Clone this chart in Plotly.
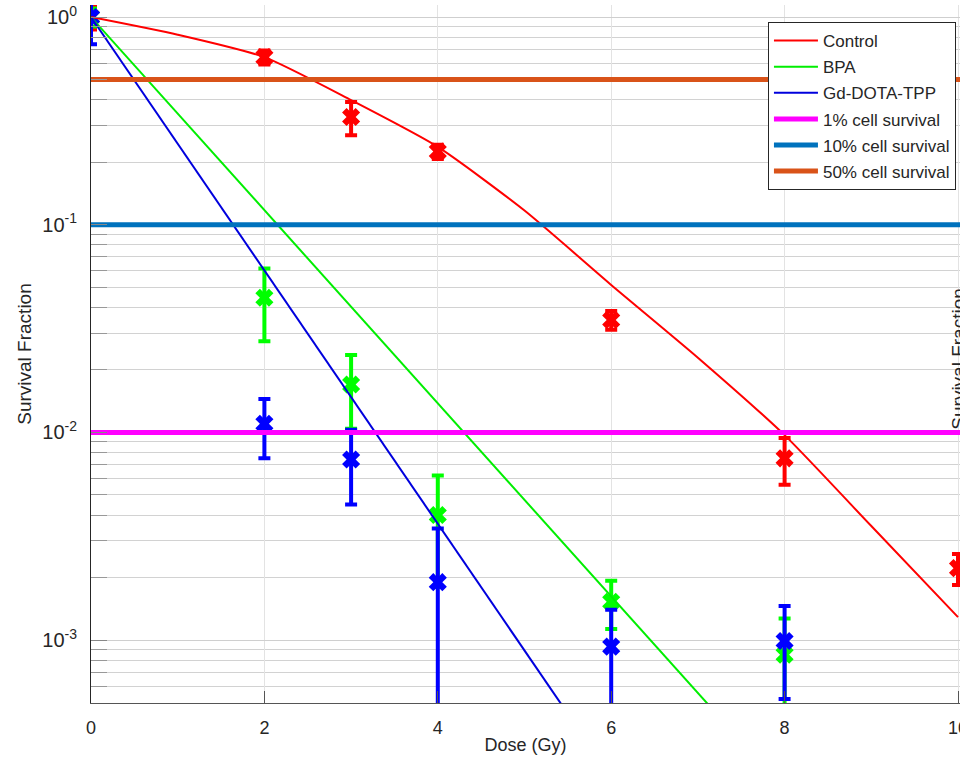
import plotly.graph_objects as go

# ---- data ----
ctrl_dose = [0, 2, 3, 4, 6, 8, 10]
ctrl_sf = [1.0, 0.641, 0.33, 0.225, 0.0348, 0.0075, 0.00222]
ctrl_err = [0.13, 0.05, 0.06, 0.018, 0.0036, 0.0019, 0.00038]

bpa_dose = [0, 2, 3, 4, 6, 8]
bpa_sf = [1.0, 0.0445, 0.017, 0.0040, 0.00153, 0.00085]
bpa_err = [0.1, 0.017, 0.0066, 0.0022, 0.0004, 0.00042]

gd_dose = [0, 2, 3, 4, 6, 8]
gd_sf = [1.0, 0.011, 0.0074, 0.0019, 0.00093, 0.00099]
gd_err = [0.26, 0.0035, 0.0029, 0.00155, 0.00047, 0.00047]

# fitted curves
fit_ctrl_dose = [0, 1, 2, 3, 4, 5, 6, 7, 8, 9, 10]
fit_ctrl_sf = [1.0, 0.822, 0.641, 0.398, 0.237, 0.117, 0.0513, 0.0229, 0.0097, 0.00354, 0.00129]
fit_bpa_dose = [0, 10]
fit_bpa_sf = [1.0, 2.24e-5]
fit_gd_dose = [0, 10]
fit_gd_sf = [1.0, 7.94e-7]

levels = [0.01, 0.1, 0.5]
level_names = ["1% cell survival", "10% cell survival", "50% cell survival"]
level_colors = ["#ff00ff", "#0072bd", "#d95319"]

ytick_vals = [1e-3, 1e-2, 1e-1, 1]
ytick_text = ["10<sup>-3</sup>", "10<sup>-2</sup>", "10<sup>-1</sup>", "10<sup>0</sup>"]
xtick_vals = [0, 2, 4, 6, 8, 10]

FONT = "Liberation Sans, Arial, sans-serif"

fig = go.Figure()

# error bar points
for xs, ys, es, col in [(ctrl_dose, ctrl_sf, ctrl_err, "#ff0000"),
                        (bpa_dose, bpa_sf, bpa_err, "#00ff00"),
                        (gd_dose, gd_sf, gd_err, "#0000ff")]:
    fig.add_trace(go.Scatter(
        x=xs, y=ys, mode="markers", showlegend=False, cliponaxis=True,
        marker=dict(symbol="x", size=16, color=col, line=dict(width=0)),
        error_y=dict(type="data", array=es, visible=True, color=col,
                     thickness=4, width=6),
    ))

# fitted lines
for xs, ys, name, col in [(fit_ctrl_dose, fit_ctrl_sf, "Control", "#ff0000"),
                          (fit_bpa_dose, fit_bpa_sf, "BPA", "#00ee00"),
                          (fit_gd_dose, fit_gd_sf, "Gd-DOTA-TPP", "#0000dd")]:
    fig.add_trace(go.Scatter(
        x=xs, y=ys, mode="lines", name=name, legendgroup=name,
        line=dict(color=col, width=2, shape="spline", smoothing=0.6),
    ))

# survival level lines
x_ext = [min(ctrl_dose), max(ctrl_dose) * 1.003]
for lv, nm, col in zip(levels, level_names, level_colors):
    fig.add_trace(go.Scatter(
        x=x_ext, y=[lv, lv], mode="lines", name=nm, legendgroup=nm,
        line=dict(color=col, width=5),
    ))

fig.update_layout(
    width=960, height=765,
    margin=dict(l=91, r=0, t=5, b=62, autoexpand=False),
    paper_bgcolor="white", plot_bgcolor="white",
    font=dict(family=FONT, size=17, color="#262626"),
    legend=dict(x=0.779, y=0.9756, xanchor="left", yanchor="top",
                bgcolor="white", bordercolor="#262626", borderwidth=1,
                font=dict(size=17, color="#262626"), itemwidth=44,
                tracegroupgap=1),
    annotations=[dict(text="Survival Fraction", xref="paper", yref="paper",
                      x=0.995, y=0.4928, xanchor="center", yanchor="middle",
                      xshift=2, textangle=-90, showarrow=False,
                      font=dict(size=19, color="#262626", family=FONT))],
)

fig.update_xaxes(
    range=[0, 10.023], tickvals=xtick_vals, ticks="inside", ticklen=12,
    tickcolor="#555", showline=True, linecolor="#555", linewidth=1,
    showgrid=True, gridcolor="#e3e3e3", gridwidth=1, zeroline=False,
    ticklabeloverflow="allow", tickfont=dict(size=18), ticklabelstandoff=8,
    automargin=False,
    title=dict(text="Dose (Gy)", font=dict(size=18), standoff=1),
)
fig.update_yaxes(
    type="log", range=[-3.303, 0.058], tickvals=ytick_vals, ticktext=ytick_text,
    ticks="inside", ticklen=16, tickcolor="#888", showline=True,
    linecolor="#262626", linewidth=1, showgrid=True, gridcolor="#cfcfcf",
    gridwidth=1, zeroline=False, tickfont=dict(size=20), ticklabelstandoff=9,
    automargin=False,
    minor=dict(dtick="D1", showgrid=True, gridcolor="#d2d2d2", ticks="inside",
               ticklen=16, tickcolor="#999"),
    title=dict(text="Survival Fraction", font=dict(size=19), standoff=5),
)

fig.write_html("out.html", config={"displayModeBar": False},
               post_script="document.body.style.margin='0';")
